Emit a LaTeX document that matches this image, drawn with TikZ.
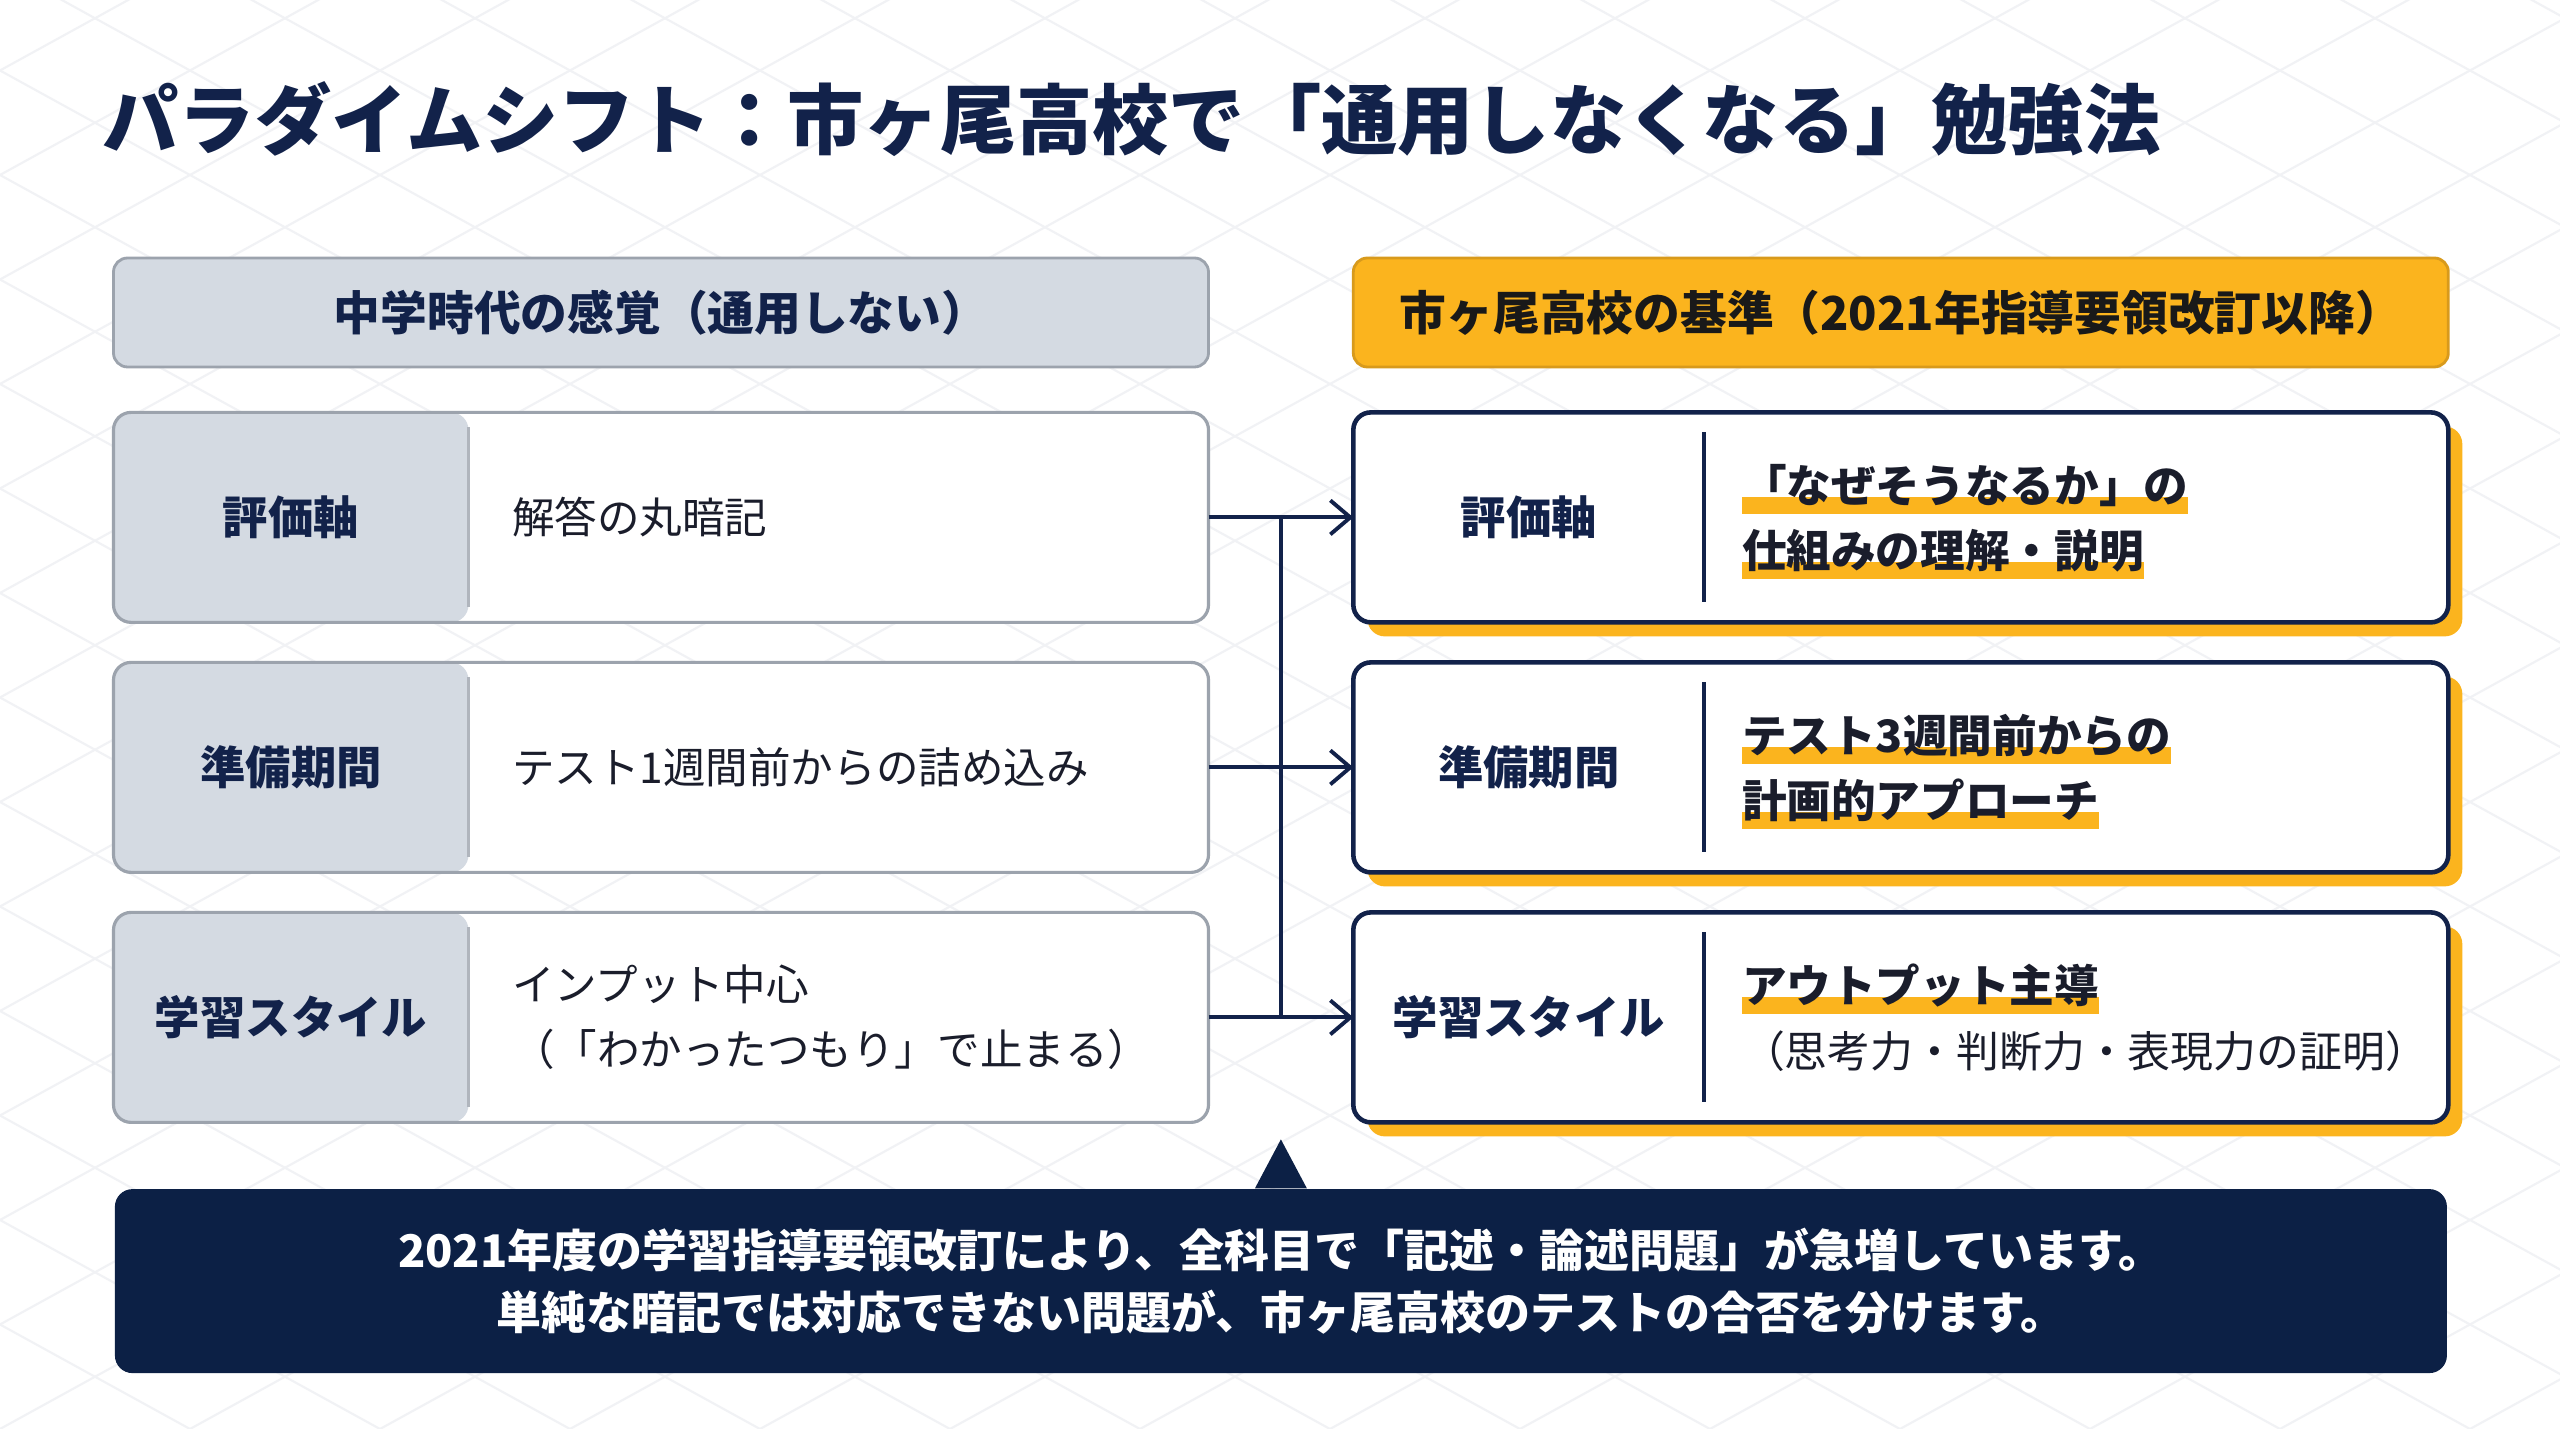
\documentclass[tikz,border=0pt]{standalone}
\usepackage{fontspec}
\setmainfont{Noto Sans CJK JP}
\usepackage{xcolor}
\usepackage{tikz}
\usetikzlibrary{positioning, arrows.meta, calc, shadows, backgrounds}
\definecolor{ink}{HTML}{12224A}
\definecolor{navy}{HTML}{0C2045}
\definecolor{mute}{HTML}{9CA3AD}
\definecolor{mutelight}{HTML}{D4DAE2}
\definecolor{accent}{HTML}{FBB41E}
\definecolor{accentdark}{HTML}{D89A1C}
\definecolor{textdark}{HTML}{1A1D2B}
\definecolor{gridline}{HTML}{F1F2F5}
\tikzset{
  title/.style    = {anchor=west, inner sep=0pt, text=ink,
                     font=\fontsize{21.7}{26}\selectfont\bfseries},
  headold/.style  = {rectangle, rounded corners=4pt, draw=mute, line width=0.8pt,
                     fill=mutelight, minimum width=10.95cm, minimum height=1.09cm,
                     text=ink, font=\fontsize{13.3}{16}\selectfont\bfseries},
  headnew/.style  = {headold, draw=accentdark, fill=accent, text=black!90},
  oldrow/.style   = {rectangle, rounded corners=5pt, draw=mute, line width=0.9pt,
                     fill=white, minimum width=10.95cm, minimum height=2.10cm, outer sep=0pt,
                     path picture={
                       \fill[mutelight] (path picture bounding box.south west)
                         rectangle ([xshift=3.55cm]path picture bounding box.north west);
                       \draw[mute!80, line width=0.6pt]
                         ([xshift=3.55cm, yshift=-0.15cm]path picture bounding box.north west)
                         -- ([xshift=3.55cm, yshift=0.15cm]path picture bounding box.south west);}},
  newrow/.style   = {rectangle, rounded corners=5pt, draw=ink, line width=1.3pt,
                     fill=white, minimum width=10.95cm, minimum height=2.10cm, outer sep=0pt,
                     drop shadow={fill=accent, opacity=1, shadow xshift=0.14cm,
                                  shadow yshift=-0.14cm}},
  rowlab/.style   = {inner sep=0pt, text=ink, font=\fontsize{12.9}{16}\selectfont\bfseries},
  oldtext/.style  = {anchor=west, align=left, inner sep=0pt, text=textdark,
                     font=\fontsize{12.1}{18.5}\selectfont},
  newtext/.style  = {anchor=base west, inner sep=0pt, text=textdark,
                     font=\fontsize{12.7}{18.5}\selectfont\bfseries},
  newsub/.style   = {newtext, font=\fontsize{12.2}{18.5}\selectfont},
  hltext/.style   = {newtext, text depth=0.12cm, text height=0.36cm,
                     path picture={
                       \fill[accent] (path picture bounding box.south west)
                         rectangle ([yshift=0.17cm]path picture bounding box.south east);}},
  divider/.style  = {draw=ink, line width=1.1pt},
  ar/.style       = {-{Straight Barb[length=2mm,width=3.4mm]}, line width=1.1pt, draw=ink},
  link/.style     = {line width=1.1pt, draw=ink},
  note/.style     = {rectangle, rounded corners=5pt, fill=navy, minimum width=23.32cm,
                     minimum height=1.84cm, text=white, align=center,
                     font=\fontsize{12.8}{17.6}\selectfont\bfseries},
}

\begin{document}
\begin{tikzpicture}[node distance=0.4cm and 1.42cm]

  \useasboundingbox (0,0) rectangle (25.6,14.29);
  \fill[white] (0,0) rectangle (25.6,14.29);
  \begin{scope}
    \clip (0,0) rectangle (25.6,14.29);
    \foreach \k in {-14,...,28} {
      \draw[gridline, line width=0.6pt] (\k*1.9,0) -- ++(26,14.3);
      \draw[gridline, line width=0.6pt] (\k*1.9,0) -- ++(-26,14.3);
    }
  \end{scope}

  \node[title] (title) at (1.02,13.10)
       {パラダイムシフト：市ヶ尾高校で「通用しなくなる」勉強法};

  \node[headold] (hold) at (6.61,11.165) {中学時代の感覚（通用しない）};
  \node[headnew, right=of hold] (hnew) {市ヶ尾高校の基準（2021年指導要領改訂以降）};

  \node[oldrow, below=0.44cm of hold] (l1) {};
  \node[oldrow, below=of l1] (l2) {};
  \node[oldrow, below=of l2] (l3) {};

  \node[rowlab] (l1lab) at ($(l1.west)+(1.775,0)$) {評価軸};
  \node[rowlab] (l2lab) at ($(l2.west)+(1.775,0)$) {準備期間};
  \node[rowlab] (l3lab) at ($(l3.west)+(1.775,0)$) {学習スタイル};

  \node[oldtext] (l1txt) at ($(l1.west)+(3.98,0)$) {解答の丸暗記};
  \node[oldtext] (l2txt) at ($(l2.west)+(3.98,0)$) {テスト1週間前からの詰め込み};
  \node[oldtext] (l3txt) at ($(l3.west)+(3.98,0)$)
       {インプット中心\\（「わかったつもり」で止まる）};

  \node[newrow, below=0.44cm of hnew] (r1) {};
  \node[newrow, below=of r1] (r2) {};
  \node[newrow, below=of r2] (r3) {};

  \node[rowlab] (r1lab) at ($(r1.west)+(1.755,0)$) {評価軸};
  \node[rowlab] (r2lab) at ($(r2.west)+(1.755,0)$) {準備期間};
  \node[rowlab] (r3lab) at ($(r3.west)+(1.755,0)$) {学習スタイル};

  \draw[divider] ($(r1.north west)+(3.51,-0.2)$) -- ($(r1.south west)+(3.51,0.2)$);
  \draw[divider] ($(r2.north west)+(3.51,-0.2)$) -- ($(r2.south west)+(3.51,0.2)$);
  \draw[divider] ($(r3.north west)+(3.51,-0.2)$) -- ($(r3.south west)+(3.51,0.2)$);

  \node[hltext] (r1a) at ($(r1.west)+(3.88,0.15)$) {「なぜそうなるか」の};
  \node[hltext] (r1b) at ($(r1a.base west)+(0,-0.65)$) {仕組みの理解・説明};
  \node[hltext] (r2a) at ($(r2.west)+(3.88,0.15)$) {テスト3週間前からの};
  \node[hltext] (r2b) at ($(r2a.base west)+(0,-0.65)$) {計画的アプローチ};
  \node[hltext] (r3a) at ($(r3.west)+(3.88,0.15)$) {アウトプット主導};
  \node[newsub] (r3b) at ($(r3a.base west)+(0,-0.65)$) {（思考力・判断力・表現力の証明）};

  \draw[ar] (l1) -- (r1);
  \draw[ar] (l2) -- (r2);
  \draw[ar] (l3) -- (r3);

  \coordinate (jtop) at ($(l1.east)!0.5!(r1.west)$);
  \coordinate (jbot) at ($(l3.east)!0.5!(r3.west)$);
  \draw[link] (jtop) -- (jbot);

  \coordinate (mid) at ($(l3.south)!0.5!(r3.south)$);
  \node[note, below=0.66cm of mid] (note)
       {2021年度の学習指導要領改訂により、全科目で「記述・論述問題」が急増しています。\\
        単純な暗記では対応できない問題が、市ヶ尾高校のテストの合否を分けます。};
  \fill[navy] ([xshift=-0.26cm]note.north) -- ([yshift=0.49cm]note.north)
              -- ([xshift=0.26cm]note.north) -- cycle;

\end{tikzpicture}
\end{document}
